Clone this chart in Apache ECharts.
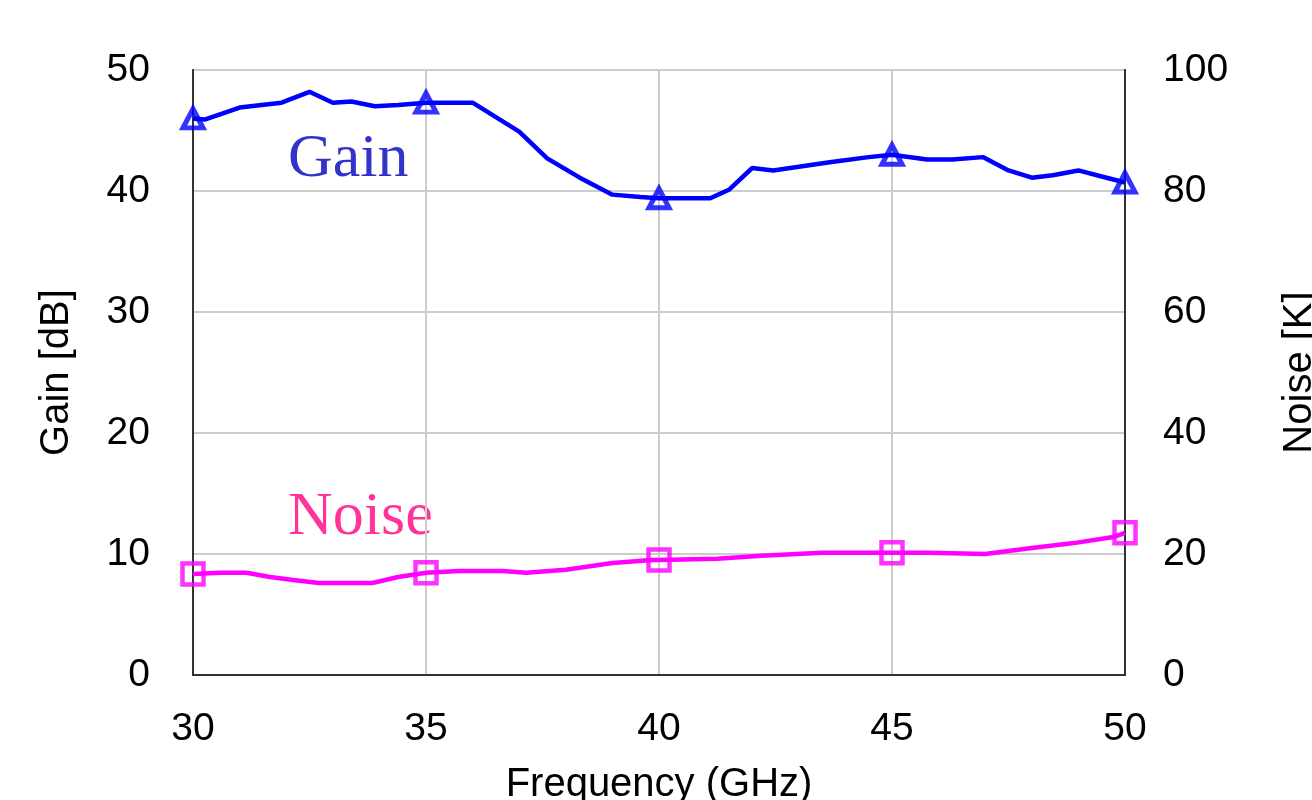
<!DOCTYPE html>
<html>
<head>
<meta charset="utf-8">
<script src="https://cdn.jsdelivr.net/npm/echarts@6/dist/echarts.min.js"></script>
<style>html,body{margin:0;padding:0;background:#fff;}#c{width:1312px;height:800px;}</style>
</head>
<body>
<div id="c"></div>
<script>
const gainFreq = [30, 30.25, 31.0, 31.9, 32.5, 33.0, 33.4, 33.9, 34.4, 35.0, 36.0, 37.0, 37.6, 38.3, 39.0, 39.6, 40.0, 41.1, 41.5, 42.0, 42.45, 43.0, 43.7, 44.5, 45.0, 45.75, 46.3, 46.95, 47.5, 48.0, 48.45, 49.0, 49.5, 50];
const gainDb   = [46.0, 45.9, 46.9, 47.3, 48.2, 47.3, 47.4, 47.0, 47.1, 47.3, 47.3, 44.9, 42.7, 41.1, 39.7, 39.5, 39.4, 39.4, 40.1, 41.9, 41.7, 42.0, 42.4, 42.8, 43.0, 42.6, 42.6, 42.8, 41.7, 41.1, 41.3, 41.7, 41.2, 40.7];
const noiseFreq = [30, 30.6, 31.15, 31.65, 32.15, 32.7, 33.85, 34.4, 35.0, 35.7, 36.65, 37.15, 38.0, 39.0, 39.85, 40.0, 41.25, 42.2, 43.5, 45.0, 45.8, 47.0, 48.0, 48.9, 49.75, 50];
const noiseK    = [16.7, 16.9, 16.9, 16.2, 15.7, 15.2, 15.2, 16.2, 16.9, 17.2, 17.2, 16.9, 17.4, 18.5, 19.0, 19.0, 19.2, 19.7, 20.2, 20.2, 20.2, 20.0, 21.0, 21.8, 22.8, 23.5];
const xTicks = [30, 35, 40, 45, 50];

const gainData = gainFreq.map((f, i) => [f, gainDb[i]]);
const noiseData = noiseFreq.map((f, i) => [f, noiseK[i]]);
const gainMarks = gainData.filter(p => xTicks.includes(p[0]));
const noiseMarks = noiseData.filter(p => xTicks.includes(p[0]));

const chart = echarts.init(document.getElementById('c'));
const lbl = { fontFamily: 'Liberation Sans, Arial, sans-serif', fontSize: 39, color: '#000' };
chart.setOption({
  animation: false,
  backgroundColor: '#fff',
  grid: { left: 193, right: 187, top: 70, bottom: 125, outerBoundsMode: 'none', containLabel: false,
          show: true, borderColor: '#333', borderWidth: 2, backgroundColor: 'transparent' },
  xAxis: {
    type: 'value', min: 30, max: 50, interval: 5,
    name: 'Frequency (GHz)', nameLocation: 'middle', nameGap: 90,
    nameTextStyle: Object.assign({}, lbl, { fontSize: 40 }),
    axisLine: { show: true, lineStyle: { color: '#333', width: 2 } },
    axisTick: { show: false },
    axisLabel: Object.assign({ margin: 35 }, lbl),
    splitLine: { show: true, lineStyle: { color: '#cccccc', width: 2 } }
  },
  yAxis: [
    {
      type: 'value', min: 0, max: 50, interval: 10, position: 'left',
      name: 'Gain [dB]', nameLocation: 'middle', nameGap: 116,
      nameTextStyle: Object.assign({}, lbl, { fontSize: 40 }),
      axisLine: { show: true, lineStyle: { color: '#333', width: 2 } },
      axisTick: { show: false },
      axisLabel: Object.assign({ margin: 43, padding: [4, 0, 0, 0] }, lbl),
      splitLine: { show: true, lineStyle: { color: '#cccccc', width: 2 } }
    },
    {
      type: 'value', min: 0, max: 100, interval: 20, position: 'right',
      name: 'Noise [K]', nameLocation: 'middle', nameGap: 155,
      nameTextStyle: Object.assign({}, lbl, { fontSize: 40 }),
      axisLine: { show: true, lineStyle: { color: '#333', width: 2 } },
      axisTick: { show: false },
      axisLabel: Object.assign({ margin: 38, padding: [4, 0, 0, 0] }, lbl),
      splitLine: { show: false }
    }
  ],
  series: [
    { type: 'line', data: gainData, yAxisIndex: 0, showSymbol: false, lineStyle: { color: '#0000ff', width: 4.5 }, z: 3 },
    { type: 'scatter', data: gainMarks, yAxisIndex: 0, symbol: 'triangle', symbolSize: [20, 19],
      itemStyle: { color: 'rgba(0,0,0,0)', borderColor: '#0000ff', borderWidth: 5 }, z: 4 },
    { type: 'line', data: noiseData, yAxisIndex: 1, showSymbol: false, lineStyle: { color: '#ff00ff', width: 4.5 }, z: 3 },
    { type: 'scatter', data: noiseMarks, yAxisIndex: 1, symbol: 'rect', symbolSize: 21,
      itemStyle: { color: 'rgba(0,0,0,0)', borderColor: '#ff00ff', borderWidth: 4.5 }, z: 4 }
  ],
  graphic: [
    { type: 'text', left: 288, top: 129, style: { text: 'Gain', font: '62px "Liberation Serif", "Times New Roman", serif', fill: '#3333cc' } },
    { type: 'text', left: 288, top: 487, style: { text: 'Noise', font: '62px "Liberation Serif", "Times New Roman", serif', fill: '#ff3399' } }
  ]
});
</script>
</body>
</html>
